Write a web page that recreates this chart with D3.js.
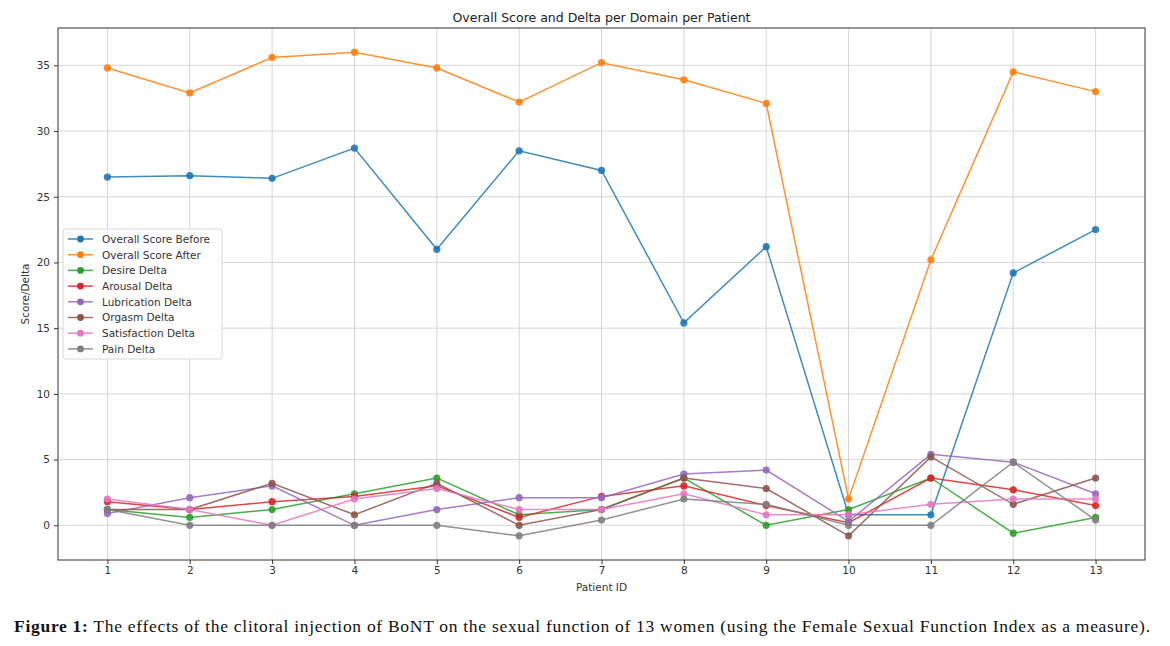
<!DOCTYPE html>
<html>
<head>
<meta charset="utf-8">
<script src="https://cdn.jsdelivr.net/npm/d3@7"></script>
<style>
  body { margin: 0; background: #fff; }
  svg { display: block; }
</style>
</head>
<body>
<div id="chart"></div>
<script>
// Data
const patients = [1, 2, 3, 4, 5, 6, 7, 8, 9, 10, 11, 12, 13];
const overallBefore = [26.5, 26.6, 26.4, 28.7, 21.0, 28.5, 27.0, 15.4, 21.2, 0.8, 0.8, 19.2, 22.5];
const overallAfter = [34.8, 32.9, 35.6, 36.0, 34.8, 32.2, 35.2, 33.9, 32.1, 2.0, 20.2, 34.5, 33.0];
const desireDelta = [1.2, 0.6, 1.2, 2.4, 3.6, 0.8, 1.2, 3.6, 0.0, 1.2, 3.6, -0.6, 0.6];
const arousalDelta = [1.8, 1.2, 1.8, 2.2, 3.0, 0.6, 2.2, 3.0, 1.5, 0.2, 3.6, 2.7, 1.5];
const lubricationDelta = [0.9, 2.1, 3.0, 0.0, 1.2, 2.1, 2.1, 3.9, 4.2, 0.3, 5.4, 4.8, 2.4];
const orgasmDelta = [1.2, 1.2, 3.2, 0.8, 3.2, 0.0, 1.2, 3.6, 2.8, -0.8, 5.2, 1.6, 3.6];
const satisfactionDelta = [2.0, 1.2, 0.0, 2.0, 2.8, 1.2, 1.2, 2.4, 0.8, 0.8, 1.6, 2.0, 2.0];
const painDelta = [1.2, 0.0, 0.0, 0.0, 0.0, -0.8, 0.4, 2.0, 1.6, 0.0, 0.0, 4.8, 0.4];

const seriesNames = [
  "Overall Score Before", "Overall Score After", "Desire Delta", "Arousal Delta",
  "Lubrication Delta", "Orgasm Delta", "Satisfaction Delta", "Pain Delta"
];
const seriesValues = [
  overallBefore, overallAfter, desireDelta, arousalDelta,
  lubricationDelta, orgasmDelta, satisfactionDelta, painDelta
];
const colors = ["#1f77b4", "#ff7f0e", "#2ca02c", "#d62728", "#9467bd", "#8c564b", "#e377c2", "#7f7f7f"];
const yTicks = [0, 5, 10, 15, 20, 25, 30, 35];

const width = 1170, height = 646;
const margin = { left: 58, right: 1145, top: 28, bottom: 560 };

const svg = d3.select("#chart").append("svg")
  .attr("width", width)
  .attr("height", height)
  .style("font-family", "'DejaVu Sans', sans-serif");

// Scales (matplotlib style auto margins)
const x = d3.scaleLinear().domain([0.4, 13.6]).range([margin.left, margin.right]);
const allVals = seriesValues.flat();
const yMin = d3.min(allVals), yMax = d3.max(allVals);
const pad = (yMax - yMin) * 0.05;
const y = d3.scaleLinear().domain([yMin - pad, yMax + pad]).range([margin.bottom, margin.top]);

// Grid
const grid = svg.append("g").attr("stroke", "#d6d6d6").attr("stroke-width", 1);
patients.forEach((p) => {
  grid.append("line")
    .attr("x1", x(p)).attr("x2", x(p))
    .attr("y1", margin.top).attr("y2", margin.bottom);
});
yTicks.forEach((t) => {
  grid.append("line")
    .attr("x1", margin.left).attr("x2", margin.right)
    .attr("y1", y(t)).attr("y2", y(t));
});

// Axes
const xAxis = svg.append("g")
  .attr("transform", `translate(0,${margin.bottom})`)
  .call(d3.axisBottom(x).tickValues(patients).tickSize(4).tickPadding(3).tickFormat(d3.format("d")));
const yAxis = svg.append("g")
  .attr("transform", `translate(${margin.left},0)`)
  .call(d3.axisLeft(y).tickValues(yTicks).tickSize(4).tickPadding(4));
[xAxis, yAxis].forEach((a) => {
  a.select(".domain").remove();
  a.selectAll("line").attr("stroke", "#333");
  a.selectAll("text").attr("fill", "#333").style("font-size", "10.5px")
    .style("font-family", "'DejaVu Sans', sans-serif");
});

// Frame
svg.append("rect")
  .attr("x", margin.left).attr("y", margin.top)
  .attr("width", margin.right - margin.left)
  .attr("height", margin.bottom - margin.top)
  .attr("fill", "none").attr("stroke", "#333").attr("stroke-width", 1);

// Lines and markers
const line = d3.line().x((d, i) => x(patients[i])).y((d) => y(d));
seriesValues.forEach((vals, s) => {
  const g = svg.append("g");
  g.append("path")
    .datum(vals)
    .attr("d", line)
    .attr("fill", "none")
    .attr("stroke", colors[s])
    .attr("stroke-width", 1.5)
    .attr("opacity", 0.85);
  g.selectAll("circle")
    .data(vals)
    .enter()
    .append("circle")
    .attr("cx", (d, i) => x(patients[i]))
    .attr("cy", (d) => y(d))
    .attr("r", 3.6)
    .attr("fill", colors[s])
    .attr("opacity", 0.9);
});

// Title and axis labels
svg.append("text")
  .attr("x", (margin.left + margin.right) / 2).attr("y", 22)
  .attr("text-anchor", "middle")
  .attr("fill", "#222")
  .style("font-size", "12.5px")
  .text("Overall Score and Delta per Domain per Patient");

svg.append("text")
  .attr("x", (margin.left + margin.right) / 2).attr("y", 591)
  .attr("text-anchor", "middle")
  .attr("fill", "#333")
  .style("font-size", "10.5px")
  .text("Patient ID");

svg.append("text")
  .attr("transform", `translate(29,${(margin.top + margin.bottom) / 2}) rotate(-90)`)
  .attr("text-anchor", "middle")
  .attr("fill", "#333")
  .style("font-size", "10.5px")
  .text("Score/Delta");

// Legend
const legend = svg.append("g").attr("transform", "translate(63,229)");
legend.append("rect")
  .attr("width", 159).attr("height", 130)
  .attr("rx", 2)
  .attr("fill", "#fff").attr("fill-opacity", 0.85)
  .attr("stroke", "#d8d8d8");
seriesNames.forEach((name, i) => {
  const ly = 10 + i * 15.7;
  legend.append("line")
    .attr("x1", 5).attr("x2", 30)
    .attr("y1", ly).attr("y2", ly)
    .attr("stroke", colors[i]).attr("stroke-width", 1.5).attr("opacity", 0.85);
  legend.append("circle")
    .attr("cx", 17.5).attr("cy", ly).attr("r", 3.4)
    .attr("fill", colors[i]);
  legend.append("text")
    .attr("x", 39).attr("y", ly + 3.8)
    .attr("fill", "#333")
    .style("font-size", "10.5px")
    .text(name);
});

// Caption
const caption = svg.append("text")
  .attr("x", 14).attr("y", 632)
  .attr("fill", "#111")
  .style("font-family", "'Liberation Serif', 'DejaVu Serif', serif")
  .style("font-size", "17.5px");
caption.append("tspan").attr("font-weight", "bold").text("Figure 1:");
caption.append("tspan").text(" The effects of the clitoral injection of BoNT on the sexual function of 13 women (using the Female Sexual Function Index as a measure).");
const capW = caption.node().getComputedTextLength();
const target = 1150 - 14;
if (Math.abs(capW - target) > 4) {
  caption.attr("textLength", target).attr("lengthAdjust", "spacing");
}
</script>
</body>
</html>
